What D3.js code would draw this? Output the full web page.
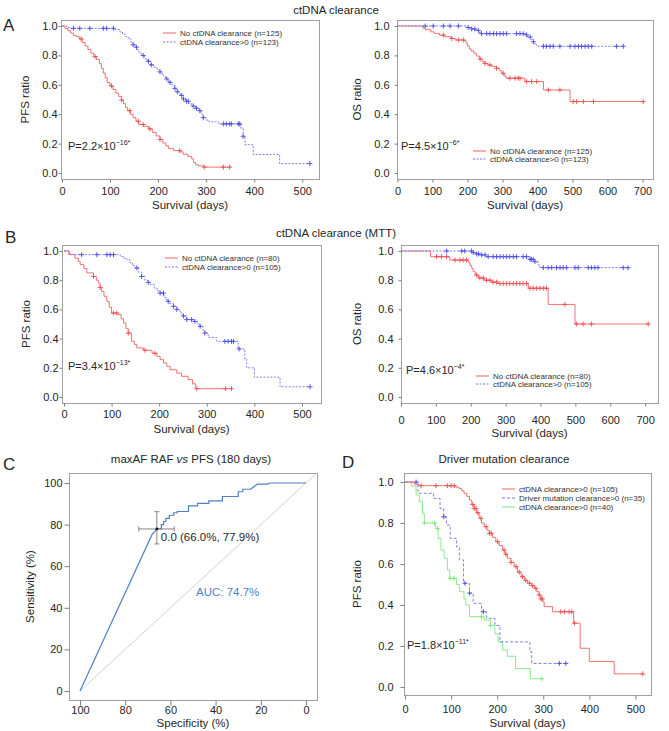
<!DOCTYPE html>
<html><head><meta charset="utf-8">
<script src="https://cdn.jsdelivr.net/npm/d3@7"></script>
<style>
body{margin:0;background:#fff;}
svg{display:block;}
</style></head><body>
<svg id="c" width="669" height="731"></svg>
<script>
// ---------------- DATA ----------------
const survTicks = [0, 100, 200, 300, 400, 500];
const survTicksOS = [0, 100, 200, 300, 400, 500, 600, 700];
const ratioTicks = [0, 0.2, 0.4, 0.6, 0.8, 1.0];
const pctTicks = [0, 20, 40, 60, 80, 100];

// Panel A, PFS: [day, survival after event]
const aPfsNo = [[0,1],[6,0.984],[12,0.968],[18,0.952],[24,0.936],[30,0.928],[36,0.912],[42,0.888],[48,0.864],[54,0.84],[60,0.816],[66,0.792],[72,0.772],[78,0.744],[82,0.712],[86,0.68],[90,0.648],[94,0.616],[100,0.592],[106,0.568],[112,0.544],[118,0.52],[124,0.496],[128,0.472],[132,0.448],[136,0.424],[142,0.4],[148,0.376],[154,0.352],[160,0.33],[170,0.318],[180,0.3],[188,0.276],[196,0.252],[204,0.228],[210,0.204],[216,0.184],[222,0.165],[232,0.152],[246,0.144],[252,0.128],[262,0.112],[270,0.096],[274,0.072],[278,0.056],[284,0.048],[296,0.04]];
const aPfsNoEnd = 350;
const aPfsNoCens = [40,69,103,124,141,159,169,183,204,245,296,336,349];
const aPfsYes = [[0,1],[10,0.99],[18,0.984],[110,0.976],[120,0.96],[126,0.944],[132,0.928],[138,0.912],[144,0.888],[148,0.872],[152,0.856],[156,0.84],[160,0.816],[166,0.8],[172,0.776],[178,0.76],[184,0.736],[190,0.72],[198,0.704],[204,0.688],[208,0.672],[212,0.656],[216,0.64],[222,0.616],[228,0.6],[234,0.576],[240,0.552],[246,0.528],[252,0.504],[258,0.488],[264,0.472],[270,0.456],[278,0.44],[286,0.424],[290,0.4],[294,0.376],[300,0.36],[306,0.348],[326,0.334],[372,0.306],[377,0.25],[381,0.192],[398,0.126],[453,0.064]];
const aPfsYesEnd = 516;
const aPfsYesCens = [24,37,58,86,93,107,148,155,169,180,186,204,218,225,235,240,249,253,259,263,273,280,287,294,336,342,349,353,367,370,377,516];

// Panel A, OS
const aOsNo = [[0,1],[72,0.985],[80,0.975],[95,0.96],[105,0.95],[120,0.938],[135,0.927],[155,0.915],[165,0.905],[190,0.9],[196,0.88],[200,0.865],[205,0.845],[210,0.83],[218,0.815],[226,0.795],[235,0.775],[242,0.757],[250,0.745],[258,0.735],[270,0.725],[283,0.712],[292,0.695],[298,0.678],[305,0.66],[310,0.645],[364,0.622],[417,0.565],[493,0.486]];
const aOsNoEnd = 702;
const aOsNoCens = [131,155,174,188,236,250,264,283,302,321,336,345,350,369,383,398,431,464,502,512,531,560,702];
const aOsYes = [[0,1],[198,0.99],[210,0.98],[222,0.97],[232,0.958],[240,0.948],[364,0.94],[372,0.925],[380,0.91],[386,0.893],[392,0.878],[398,0.862]];
const aOsYesEnd = 645;
const aOsYesCens = [79,102,131,150,174,202,212,221,231,240,255,264,274,283,293,302,312,340,350,359,369,379,388,417,426,436,445,464,493,507,517,526,536,545,555,626,645];

// Panel B, PFS (MTT)
const bPfsNo = [[0,1],[10,0.976],[23,0.952],[30,0.928],[34,0.906],[42,0.88],[48,0.85],[62,0.826],[68,0.8],[72,0.78],[76,0.75],[79,0.723],[84,0.69],[90,0.655],[95,0.615],[100,0.575],[114,0.564],[120,0.535],[125,0.507],[130,0.47],[135,0.438],[142,0.381],[148,0.36],[153,0.336],[167,0.32],[185,0.3],[195,0.279],[202,0.256],[209,0.233],[216,0.21],[223,0.187],[237,0.164],[247,0.142],[261,0.119],[270,0.09],[277,0.057]];
const bPfsNoEnd = 352;
const bPfsNoCens = [62,76,104,111,135,170,191,279,339,352];
const bPfsYes = [[0,1],[12,0.975],[118,0.962],[126,0.95],[132,0.94],[138,0.92],[144,0.9],[149,0.884],[156,0.855],[163,0.826],[170,0.8],[176,0.785],[181,0.77],[190,0.745],[196,0.728],[202,0.712],[210,0.68],[216,0.655],[222,0.64],[230,0.621],[237,0.6],[244,0.575],[250,0.555],[258,0.53],[272,0.518],[280,0.5],[286,0.484],[292,0.46],[296,0.438],[303,0.408],[321,0.381],[366,0.329],[380,0.256],[384,0.2],[400,0.136],[454,0.07]];
const bPfsYesEnd = 517;
const bPfsYesCens = [37,69,90,97,104,153,163,177,202,209,219,230,237,251,258,268,275,286,296,338,345,352,356,368,517];

// Panel B, OS (MTT)
const bOsNo = [[0,1],[85,0.961],[140,0.938],[194,0.92],[198,0.9],[203,0.88],[207,0.858],[213,0.835],[222,0.815],[239,0.8],[260,0.787],[277,0.777],[365,0.745],[422,0.634],[499,0.5]];
const bOsNoEnd = 709;
const bOsNoCens = [102,116,131,155,169,178,188,217,226,236,245,255,264,274,284,293,303,312,322,331,341,350,360,370,379,389,398,408,417,470,503,522,546,709];
const bOsYes = [[0,1],[203,0.99],[215,0.98],[226,0.973],[246,0.961],[370,0.943],[384,0.927],[393,0.904],[398,0.886]];
const bOsYesEnd = 651;
const bOsYesCens = [131,174,183,202,207,217,222,231,241,250,264,274,284,293,303,312,322,331,350,360,370,374,379,384,408,422,432,446,456,465,475,499,508,537,546,556,565,637,651];

// Panel C, ROC
const rocSpec = [100,68,67,66,66,64,64,63,63,62,62,60.5,60.5,58.5,58.5,57,57,52,52,48,48,43,43,37,37,30,30,28,28,24.5,21.5,17,17,16,0];
const rocSens = [0,75.5,76.5,77.9,77.9,77.9,80,80,81.5,81.5,83,83,84.5,84.5,85.7,85.7,86.3,86.3,89,89,90.2,90.2,91.4,91.4,93.5,93.5,95.8,95.8,97,97,99.5,99.5,99.5,100,100];
const bestSpec = 66.0, bestSens = 77.9;
const bestSpecCI = [58.3, 74.0];
const bestSensCI = [70.7, 86.2];
const aucValue = 74.7;

// Panel D, driver mutation clearance
const dRed = [[0,1],[20,0.99],[30,0.982],[110,0.975],[117,0.969],[123,0.957],[128,0.945],[134,0.93],[140,0.912],[145,0.89],[150,0.871],[155,0.85],[161,0.823],[166,0.8],[172,0.782],[178,0.765],[183,0.75],[190,0.73],[197,0.709],[204,0.69],[212,0.668],[217,0.648],[222,0.628],[230,0.608],[237,0.587],[244,0.56],[252,0.538],[259,0.52],[266,0.506],[274,0.494],[281,0.481],[286,0.465],[291,0.449],[295,0.43],[299,0.416],[302,0.392],[320,0.367],[366,0.311],[380,0.189],[400,0.124],[454,0.064]];
const dRedEnd = 516;
const dRedCens = [35,67,92,100,107,147,150,154,158,165,176,183,187,201,215,219,230,241,248,255,262,270,277,284,291,295,298,338,346,356,362,368,516];
const dBlue = [[0,1],[28,0.945],[62,0.92],[76,0.871],[84,0.83],[90,0.79],[98,0.725],[112,0.684],[118,0.62],[127,0.506],[140,0.458],[148,0.408],[166,0.367],[177,0.335],[195,0.3],[206,0.22],[271,0.172],[275,0.115]];
const dBlueEnd = 350;
const dBlueCens = [24,84,130,140,170,335,349];
const dGreen = [[0,1],[14,0.98],[24,0.937],[31,0.904],[38,0.847],[42,0.8],[66,0.774],[72,0.725],[78,0.668],[85,0.628],[92,0.571],[97,0.53],[112,0.5],[118,0.465],[128,0.43],[132,0.4],[140,0.343],[172,0.327],[185,0.3],[195,0.26],[202,0.22],[212,0.18],[222,0.15],[240,0.09],[272,0.04]];
const dGreenEnd = 297;
const dGreenCens = [42,64,71,98,106,166,186,297];

// ---------------- DRAWING ----------------
const FONT = "'Liberation Sans', Arial, Helvetica, sans-serif";
const RED = "#f26262", RED_MARK = "#ec4e4e";
const BLUE = "#7070f2", BLUE_MARK = "#4848e0";
const GREEN = "#7fe67f", ROC = "#4f7fc6";
const svg = d3.select("#c");

function txt(x, y, s, o = {}) {
  const t = svg.append("text").attr("x", x).attr("y", y)
    .attr("font-family", FONT).attr("font-size", o.size || 11)
    .attr("fill", o.fill || "#262626").attr("text-anchor", o.anchor || "start");
  if (o.rotate) t.attr("transform", `rotate(-90,${x},${y})`).attr("dy", "0.35em");
  t.text(s);
  return t;
}

function styleAxis(s) {
  s.attr("font-family", FONT).attr("font-size", 11);
  s.select(".domain").remove();
  s.selectAll("line").attr("stroke", "#808080");
  s.selectAll("text").attr("fill", "#262626");
}

function frame(c) {
  const g = svg.append("g");
  const xs = d3.scaleLinear().domain(c.xDomain).range(c.xRange);
  const ys = d3.scaleLinear().domain(c.yDomain).range(c.yRange);
  const b = c.box;
  g.append("rect").attr("x", b.l + 0.5).attr("y", b.t + 0.5)
    .attr("width", b.r - b.l).attr("height", b.b - b.t)
    .attr("fill", "none").attr("stroke", "#a0a0a0");
  const tl = c.tick;
  g.append("g").attr("transform", `translate(${b.l + 0.5},0)`)
    .call(d3.axisLeft(ys).tickValues(c.yTicks).tickFormat(c.yFmt)
      .tickSize(tl).tickPadding(b.l - tl - c.yLabRight))
    .call(styleAxis);
  g.append("g").attr("transform", `translate(0,${b.b + 0.5})`)
    .call(d3.axisBottom(xs).tickValues(c.xTicks).tickFormat(c.xFmt)
      .tickSize(tl).tickPadding(c.xLabBase - b.b - tl - 0.71 * 11))
    .call(styleAxis);
  txt((b.l + b.r) / 2, c.xTitleBase, c.xTitle, { anchor: "middle", size: 11.5 });
  txt(c.yTitleX, (b.t + b.b) / 2, c.yTitle, { anchor: "middle", size: 11.5, rotate: true });
  return { g, xs, ys };
}

function stepAt(steps, t) {
  let v = steps[0][1];
  for (const [tt, s] of steps) { if (tt <= t) v = s; else break; }
  return v;
}

function kmCurve(f, steps, end, cens, color, mark, dash) {
  const pts = steps.concat([[end, steps[steps.length - 1][1]]]);
  const line = d3.line().x(d => f.xs(d[0])).y(d => f.ys(d[1])).curve(d3.curveStepAfter);
  f.g.append("path").attr("d", line(pts)).attr("fill", "none")
    .attr("stroke", color).attr("stroke-width", 0.9)
    .attr("stroke-dasharray", dash || null);
  f.g.append("g").selectAll("path").data(cens).join("path")
    .attr("d", t => {
      const x = f.xs(t), y = f.ys(stepAt(steps, t));
      return `M${x - 2.5},${y}h5M${x},${y - 2.5}v5`;
    })
    .attr("stroke", mark).attr("stroke-width", 0.9).attr("fill", "none");
}

function legend(x, y, dy, items) {
  items.forEach((it, i) => {
    const yy = y + i * dy;
    svg.append("line").attr("x1", x).attr("x2", x + 13).attr("y1", yy).attr("y2", yy)
      .attr("stroke", it.color).attr("stroke-width", 1).attr("stroke-dasharray", it.dash || null);
    txt(x + 17, yy + 3, it.label, { size: 8, fill: "#333" });
  });
}

function pval(x, y, main, sup) {
  const t = txt(x, y, main, { size: 11 });
  t.append("tspan").attr("dy", -5).attr("font-size", 7).text(sup);
}

const f1 = d3.format(".1f");
const f0 = d3.format("d");

// ---- titles / letters ----
txt(3, 31, "A", { size: 17 });
txt(5, 243, "B", { size: 17 });
txt(3, 470, "C", { size: 17 });
txt(342, 468, "D", { size: 17 });
txt(336, 14, "ctDNA clearance", { anchor: "middle", size: 11.5 });
txt(336, 237, "ctDNA clearance (MTT)", { anchor: "middle", size: 11.5 });
{
  const t = txt(191, 463, "maxAF RAF ", { anchor: "middle", size: 11.5 });
  t.append("tspan").attr("font-style", "italic").text("vs");
  t.append("tspan").text(" PFS (180 days)");
}
txt(504, 463, "Driver mutation clearance", { anchor: "middle", size: 11.5 });

// ---- Panel A left ----
{
  const f = frame({ box: { l: 61, t: 20, r: 319, b: 179 }, xDomain: [0, 535], xRange: [62, 319],
    yDomain: [0, 1], yRange: [173, 26], xTicks: survTicks, yTicks: ratioTicks, xFmt: f0, yFmt: f1,
    tick: 3, yLabRight: 57, xLabBase: 194, xTitleBase: 209, xTitle: "Survival (days)",
    yTitleX: 25, yTitle: "PFS ratio" });
  kmCurve(f, aPfsNo, aPfsNoEnd, aPfsNoCens, RED, RED_MARK);
  kmCurve(f, aPfsYes, aPfsYesEnd, aPfsYesCens, BLUE, BLUE_MARK, "2,1.5");
  legend(163, 33, 9, [{ color: RED, label: "No ctDNA clearance (n=125)" },
    { color: BLUE, dash: "2,1.5", label: "ctDNA clearance>0 (n=123)" }]);
  pval(68, 150, "P=2.2×10", "−16*");
}
// ---- Panel A right ----
{
  const f = frame({ box: { l: 397, t: 20, r: 653, b: 179 }, xDomain: [0, 730], xRange: [397.5, 653],
    yDomain: [0, 1], yRange: [173, 26], xTicks: survTicksOS, yTicks: ratioTicks, xFmt: f0, yFmt: f1,
    tick: 3, yLabRight: 389, xLabBase: 194, xTitleBase: 209, xTitle: "Survival (days)",
    yTitleX: 357, yTitle: "OS ratio" });
  kmCurve(f, aOsNo, aOsNoEnd, aOsNoCens, RED, RED_MARK);
  kmCurve(f, aOsYes, aOsYesEnd, aOsYesCens, BLUE, BLUE_MARK, "2,1.5");
  legend(473, 151, 8, [{ color: RED, label: "No ctDNA clearance (n=125)" },
    { color: BLUE, dash: "2,1.5", label: "ctDNA clearance>0 (n=123)" }]);
  pval(401, 150, "P=4.5×10", "−6*");
}
// ---- Panel B left ----
{
  const f = frame({ box: { l: 62, t: 245, r: 321, b: 403 }, xDomain: [0, 540], xRange: [64, 321],
    yDomain: [0, 1], yRange: [397, 251], xTicks: survTicks, yTicks: ratioTicks, xFmt: f0, yFmt: f1,
    tick: 3, yLabRight: 58, xLabBase: 417, xTitleBase: 433, xTitle: "Survival (days)",
    yTitleX: 26, yTitle: "PFS ratio" });
  kmCurve(f, bPfsNo, bPfsNoEnd, bPfsNoCens, RED, RED_MARK);
  kmCurve(f, bPfsYes, bPfsYesEnd, bPfsYesCens, BLUE, BLUE_MARK, "2,1.5");
  legend(165, 258, 9, [{ color: RED, label: "No ctDNA clearance (n=80)" },
    { color: BLUE, dash: "2,1.5", label: "ctDNA clearance>0 (n=105)" }]);
  pval(68, 370, "P=3.4×10", "−13*");
}
// ---- Panel B right ----
{
  const f = frame({ box: { l: 401, t: 245, r: 658, b: 403 }, xDomain: [0, 737], xRange: [401, 658],
    yDomain: [0, 1], yRange: [397, 251], xTicks: survTicksOS, yTicks: ratioTicks, xFmt: f0, yFmt: f1,
    tick: 3, yLabRight: 393, xLabBase: 423, xTitleBase: 437, xTitle: "Survival (days)",
    yTitleX: 357, yTitle: "OS ratio" });
  kmCurve(f, bOsNo, bOsNoEnd, bOsNoCens, RED, RED_MARK);
  kmCurve(f, bOsYes, bOsYesEnd, bOsYesCens, BLUE, BLUE_MARK, "2,1.5");
  legend(476, 376, 8, [{ color: RED, label: "No ctDNA clearance (n=80)" },
    { color: BLUE, dash: "2,1.5", label: "ctDNA clearance>0 (n=105)" }]);
  pval(406, 374, "P=4.6×10", "−4*");
}
// ---- Panel C ----
{
  const box = { l: 69, t: 473, r: 317, b: 700 };
  const f = frame({ box, xDomain: [100, 0], xRange: [80, 306],
    yDomain: [0, 100], yRange: [691, 483], xTicks: pctTicks.slice().reverse(), yTicks: pctTicks, xFmt: f0, yFmt: f0,
    tick: 5, yLabRight: 62, xLabBase: 713, xTitleBase: 727, xTitle: "Specificity (%)",
    yTitleX: 30, yTitle: "Sensitivity (%)" });
  const d0 = 100, d1 = f.xs.invert(box.r);
  f.g.append("line").attr("x1", f.xs(d0)).attr("y1", f.ys(0))
    .attr("x2", f.xs(d1)).attr("y2", f.ys(100 - d1))
    .attr("stroke", "#d2d2d2").attr("stroke-width", 1);
  const pts = rocSpec.map((s, i) => [s, rocSens[i]]);
  f.g.append("path").attr("d", d3.line().x(d => f.xs(d[0])).y(d => f.ys(d[1]))(pts))
    .attr("fill", "none").attr("stroke", ROC).attr("stroke-width", 1.2);
  const px = f.xs(bestSpec), py = f.ys(bestSens);
  const ci = f.g.append("g").attr("stroke", "#858585").attr("stroke-width", 1);
  ci.append("line").attr("x1", f.xs(bestSpecCI[1])).attr("x2", f.xs(bestSpecCI[0])).attr("y1", py).attr("y2", py);
  ci.append("line").attr("x1", px).attr("x2", px).attr("y1", f.ys(bestSensCI[0])).attr("y2", f.ys(bestSensCI[1]));
  [bestSpecCI[0], bestSpecCI[1]].forEach(v => ci.append("line").attr("x1", f.xs(v)).attr("x2", f.xs(v)).attr("y1", py - 2.5).attr("y2", py + 2.5));
  [bestSensCI[0], bestSensCI[1]].forEach(v => ci.append("line").attr("x1", px - 2.5).attr("x2", px + 2.5).attr("y1", f.ys(v)).attr("y2", f.ys(v)));
  f.g.append("circle").attr("cx", px).attr("cy", py).attr("r", 1.4).attr("fill", "#111");
  txt(px + 4, py + 12, `0.0 (${bestSpec.toFixed(1)}%, ${bestSens.toFixed(1)}%)`, { size: 11.5 });
  txt(196, 596, `AUC: ${aucValue.toFixed(1)}%`, { size: 11.5, fill: ROC });
}
// ---- Panel D ----
{
  const f = frame({ box: { l: 404, t: 473, r: 651, b: 695 }, xDomain: [0, 536], xRange: [405, 652],
    yDomain: [0, 1], yRange: [687, 482], xTicks: survTicks, yTicks: ratioTicks, xFmt: f0, yFmt: f1,
    tick: 4, yLabRight: 393, xLabBase: 712, xTitleBase: 727, xTitle: "Survival (days)",
    yTitleX: 357, yTitle: "PFS ratio" });
  kmCurve(f, dGreen, dGreenEnd, dGreenCens, GREEN, GREEN);
  kmCurve(f, dBlue, dBlueEnd, dBlueCens, BLUE, BLUE_MARK, "3,2");
  kmCurve(f, dRed, dRedEnd, dRedCens, RED, RED_MARK);
  legend(502, 489, 9, [{ color: RED, label: "ctDNA clearance>0 (n=105)" },
    { color: BLUE, dash: "3,2", label: "Driver mutation clearance>0 (n=35)" },
    { color: GREEN, label: "ctDNA clearance>0 (n=40)" }]);
  pval(407, 649, "P=1.8×10", "−11*");
}
</script>
</body></html>
